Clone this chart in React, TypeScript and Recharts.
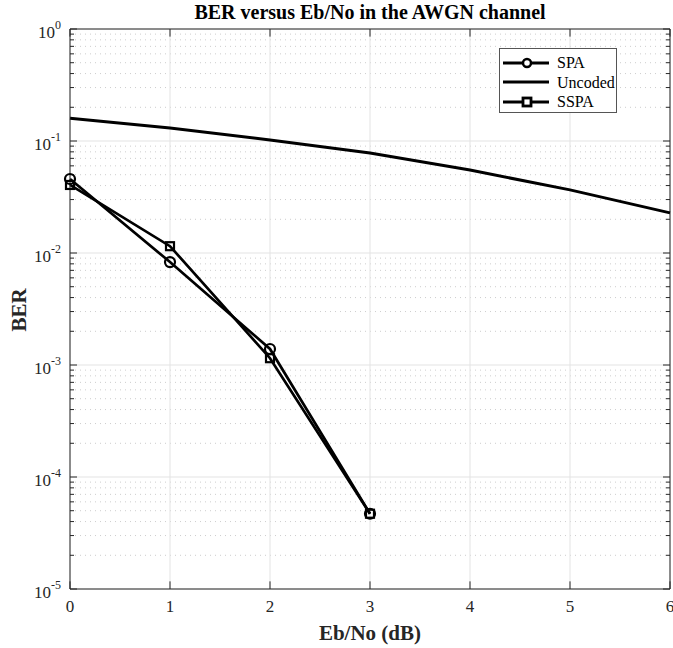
import React from "react";
import {
  ComposedChart, Line, XAxis, YAxis, ReferenceLine,
} from "recharts";

const ebno = [0, 1, 2, 3, 4, 5, 6];
const spa = [0.0458, 0.0083, 0.00139, 0.000047];
const sspa = [0.0405, 0.0115, 0.00115, 0.000047];
const uncoded = [0.16, 0.1306, 0.102, 0.078, 0.055, 0.0366, 0.0228];

const xTicks = [0, 1, 2, 3, 4, 5, 6];
const yTicks = [1e-5, 1e-4, 1e-3, 1e-2, 1e-1, 1];
const yExponents = ["-5", "-4", "-3", "-2", "-1", "0"];
const minorMult = [2, 3, 4, 5, 6, 7, 8, 9];

const data = ebno.map((x, i) => ({
  x,
  spa: spa[i] ?? null,
  sspa: sspa[i] ?? null,
  uncoded: uncoded[i],
}));

const minorTicks: number[] = [];
yTicks.slice(0, -1).forEach((d) => minorMult.forEach((m) => minorTicks.push(m * d)));

const FONT = "'Liberation Serif', 'Times New Roman', serif";
const W = 673;
const H = 648;

const CircleDot = (p: any) => {
  if (p.cx == null || p.cy == null) return <g key={p.key} />;
  return <circle key={p.key} cx={p.cx} cy={p.cy} r={5} fill="none" stroke="#000" strokeWidth={2.2} />;
};
const SquareDot = (p: any) => {
  if (p.cx == null || p.cy == null) return <g key={p.key} />;
  return <rect key={p.key} x={p.cx - 4} y={p.cy - 4} width={8} height={8} fill="none" stroke="#000" strokeWidth={2.2} />;
};

const XTick = (p: any) => (
  <text x={p.x} y={p.y + 15} textAnchor="middle" fontFamily={FONT} fontSize={17} fill="#262626">
    {p.payload.value}
  </text>
);

const YTick = (p: any) => {
  const idx = yTicks.findIndex((t) => Math.abs(Math.log10(t) - Math.log10(p.payload.value)) < 1e-6);
  return (
    <text x={p.x - 1} y={p.y + 9} textAnchor="end" fontFamily={FONT} fontSize={17} fill="#262626">
      <tspan>10</tspan>
      <tspan dy={-9} fontSize={12}>{yExponents[idx]}</tspan>
    </text>
  );
};

const LegendBox = () => {
  const rows = [
    { name: "SPA", marker: "circle" },
    { name: "Uncoded", marker: "none" },
    { name: "SSPA", marker: "square" },
  ];
  return (
    <div style={{ position: "absolute", left: 499, top: 48, width: 116, height: 63, border: "1px solid #555", background: "#fff", fontFamily: FONT, fontSize: 16, color: "#000" }}>
      {rows.map((r, i) => (
        <div key={r.name} style={{ position: "absolute", left: 0, top: 4 + i * 19.5, height: 19, display: "flex", alignItems: "center" }}>
          <svg width={54} height={14} style={{ marginLeft: 3 }}>
            <line x1={0} y1={7} x2={46} y2={7} stroke="#000" strokeWidth={2.8} />
            {r.marker === "circle" && <circle cx={24} cy={7} r={4} fill="#fff" stroke="#000" strokeWidth={2.5} />}
            {r.marker === "square" && <rect x={20} y={3} width={8} height={8} fill="#fff" stroke="#000" strokeWidth={2.8} />}
          </svg>
          <span style={{ lineHeight: "19px" }}>{r.name}</span>
        </div>
      ))}
    </div>
  );
};

export default function App() {
  return (
    <div style={{ position: "absolute", left: 0, top: 0, width: W, height: H, background: "#fff", overflow: "hidden" }}>
      <ComposedChart width={W} height={H} data={data} margin={{ top: 29, right: 3, bottom: 29, left: 10 }}>
        {minorTicks.map((v) => (
          <ReferenceLine key={"m" + v} y={v} stroke="#cdcdcd" strokeDasharray="1 4" strokeWidth={1} />
        ))}
        {xTicks.map((v) => (
          <ReferenceLine key={"gx" + v} x={v} stroke="#e3e3e3" />
        ))}
        {yTicks.map((v) => (
          <ReferenceLine key={"gy" + v} y={v} stroke="#e3e3e3" />
        ))}
        {minorTicks.map((v) => (
          <ReferenceLine key={"tl" + v} segment={[{ x: 0, y: v }, { x: 0.04, y: v }]} stroke="#262626" />
        ))}
        {minorTicks.map((v) => (
          <ReferenceLine key={"tr" + v} segment={[{ x: 5.96, y: v }, { x: 6, y: v }]} stroke="#262626" />
        ))}
        {yTicks.map((v) => (
          <ReferenceLine key={"yl" + v} segment={[{ x: 0, y: v }, { x: 0.07, y: v }]} stroke="#262626" />
        ))}
        {yTicks.map((v) => (
          <ReferenceLine key={"yr" + v} segment={[{ x: 5.93, y: v }, { x: 6, y: v }]} stroke="#262626" />
        ))}
        {xTicks.map((v) => (
          <ReferenceLine key={"xb" + v} segment={[{ x: v, y: 1e-5 }, { x: v, y: 1.17e-5 }]} stroke="#262626" />
        ))}
        {xTicks.map((v) => (
          <ReferenceLine key={"xt" + v} segment={[{ x: v, y: 1 }, { x: v, y: 0.855 }]} stroke="#262626" />
        ))}
        <ReferenceLine y={1} stroke="#262626" />
        <ReferenceLine x={6} stroke="#262626" />
        <XAxis
          dataKey="x"
          type="number"
          domain={[0, 6]}
          ticks={xTicks}
          tickLine={false}
          axisLine={{ stroke: "#262626" }}
          tick={<XTick />}
          height={30}
          interval={0}
        />
        <YAxis
          type="number"
          scale="log"
          domain={[1e-5, 1]}
          allowDataOverflow
          ticks={yTicks}
          tickLine={false}
          axisLine={{ stroke: "#262626" }}
          tick={<YTick />}
          width={60}
          interval={0}
        />
        <Line type="linear" dataKey="uncoded" name="Uncoded" stroke="#000" strokeWidth={3} dot={false} isAnimationActive={false} />
        <Line type="linear" dataKey="spa" name="SPA" stroke="#000" strokeWidth={2.7} dot={<CircleDot />} isAnimationActive={false} connectNulls />
        <Line type="linear" dataKey="sspa" name="SSPA" stroke="#000" strokeWidth={2.7} dot={<SquareDot />} isAnimationActive={false} connectNulls />
      </ComposedChart>
      <div style={{ position: "absolute", top: 0, left: 70, width: 600, textAlign: "center", fontFamily: FONT, fontWeight: "bold", fontSize: 20, color: "#000", lineHeight: "24px" }}>
        BER versus Eb/No in the AWGN channel
      </div>
      <div style={{ position: "absolute", top: 621, left: 70, width: 600, textAlign: "center", fontFamily: FONT, fontWeight: "bold", fontSize: 21, color: "#262626", lineHeight: "24px" }}>
        Eb/No (dB)
      </div>
      <div style={{ position: "absolute", left: 19, top: 310, transform: "translate(-50%, -50%) rotate(-90deg)", fontFamily: FONT, fontWeight: "bold", fontSize: 21, color: "#262626", lineHeight: "24px" }}>
        BER
      </div>
      <LegendBox />
    </div>
  );
}
